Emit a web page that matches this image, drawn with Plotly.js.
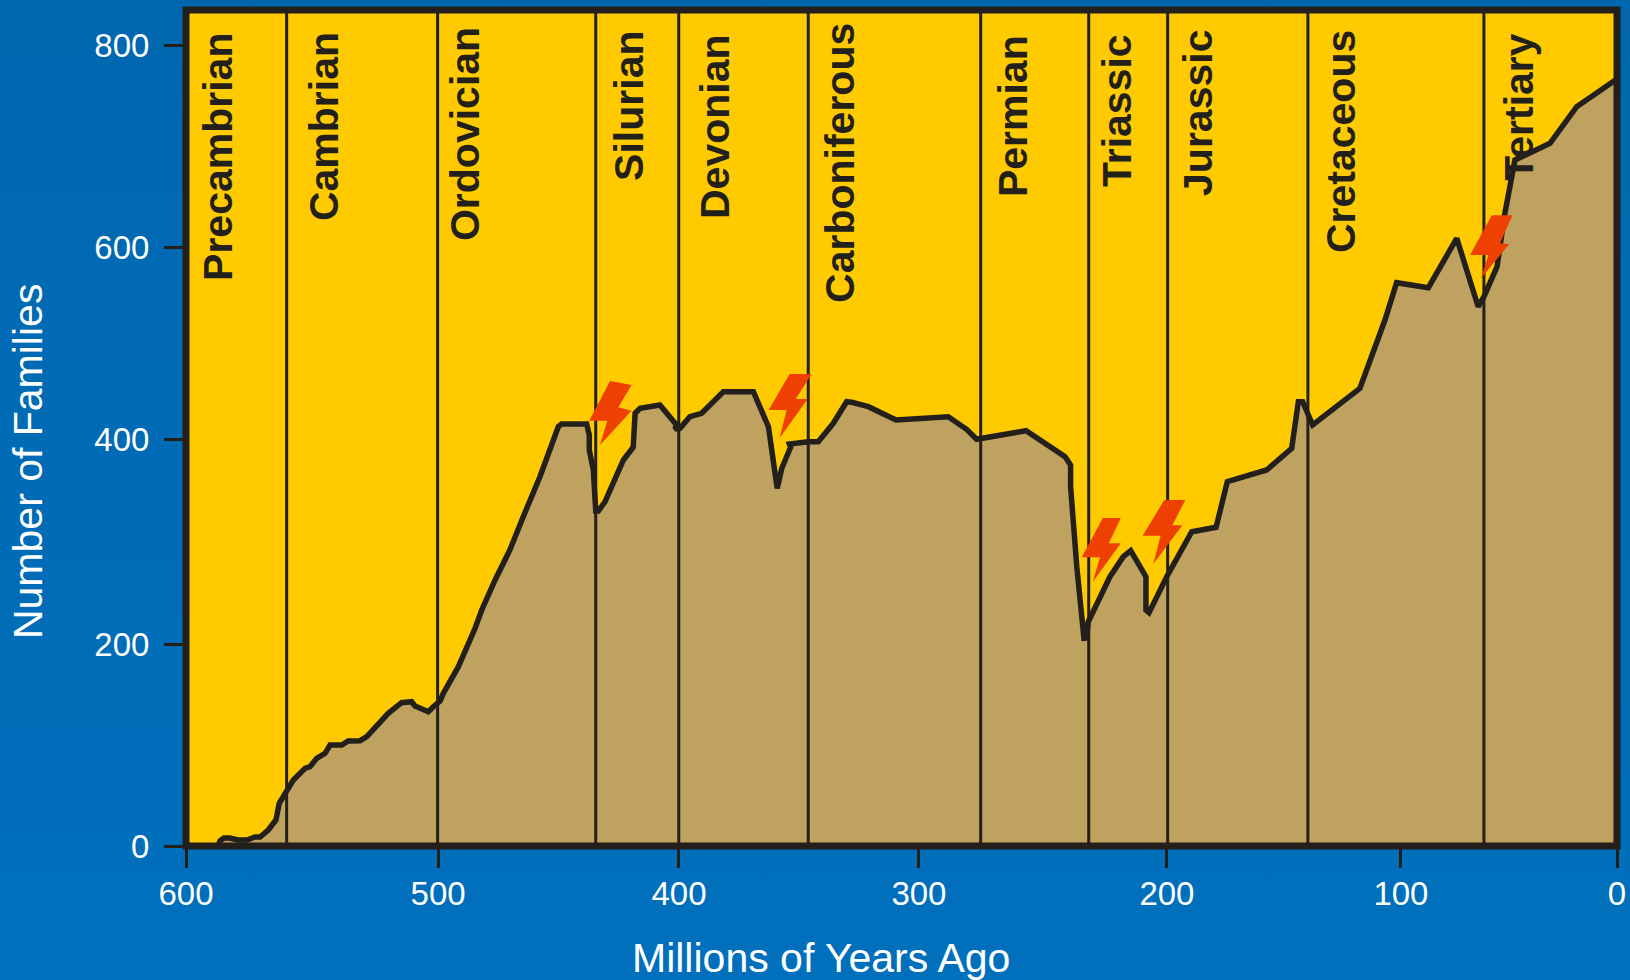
<!DOCTYPE html>
<html>
<head>
<meta charset="utf-8">
<script src="https://cdn.plot.ly/plotly-3.0.1.min.js"></script>
<style>
html,body{margin:0;padding:0;width:1630px;height:980px;overflow:hidden;background:linear-gradient(180deg,#0067af 0%,#0070bd 100%);}
#chart{width:1630px;height:980px;}
</style>
</head>
<body>
<div id="chart"></div>
<script>
const xTickVals = [600, 494.3, 393.3, 292.7, 188.7, 90.6, 0];
const xTickText = ['600', '500', '400', '300', '200', '100', '0'];
const yTickVals = [0, 202, 407, 598.5, 800.5];
const yTickText = ['0', '200', '400', '600', '800'];

const ages = [586.6,585.7,584.1,581.6,578.2,574.4,571.1,569.0,565.5,562.3,560.9,557.5,555.0,550.1,548.0,545.2,541.7,539.6,534.7,532.0,527.0,524.2,518.7,515.2,509.6,505.4,504.0,501.2,498.4,496.3,493.5,492.1,487.9,485.8,478.8,476.0,470.4,464.2,458.6,451.6,443.9,442.5,432.0,430.9,430.9,429.2,428.2,427.1,424.3,416.6,412.5,411.7,409.6,403.4,401.3,394.3,395.0,392.9,388.7,383.8,374.7,362.1,355.8,352.1,350.2,346.5,347.0,339.1,334.9,328.6,323.0,320.9,313.9,302.3,280.4,272.7,268.5,247.8,231.4,229.1,229.1,226.5,223.5,222.4,221.7,212.6,207.0,203.9,197.5,197.5,196.2,188.8,178.3,168.1,163.4,146.9,136.4,133.6,131.8,127.6,107.8,97.3,92.4,79.1,67.2,58.2,55.8,50.3,47.0,42.8,28.1,16.9,0];
const families = [0,5.3,8,8,6,6,9,9,16,26,42.7,56,66,77.7,79.3,87.7,92.7,101,101,105,105.3,109.3,122.7,132.7,143.3,144.3,140,137.7,134.3,139.3,145,152.7,169.3,179.3,217.7,236,266,296,329.3,369.3,419.3,422,422,411,396,376,335,335,344.3,386,398.7,432.7,437.7,441,441,421,417,417.7,429.3,432.7,454.3,454.3,419.3,357.7,377.7,398.7,402,404.3,404.3,422.7,444.3,443.7,439.3,426,429.3,416.7,406.7,415.3,389.3,381,359.3,279.3,207.7,208,224.3,269.3,289.3,295.3,269.3,236,233.3,269.3,314.3,318.7,364.3,376,397.7,444.3,444.3,421,457.7,526,563.3,558.3,607.7,539.3,549.3,579.3,632.7,686,702.7,739.3,767];

const boundaries = [557.8, 494.5, 428.2, 393.4, 339.1, 266.8, 221.5, 188.4, 129.6, 55.8];

const periodNames = ['Precambrian','Cambrian','Ordovician','Silurian','Devonian','Carboniferous','Permian','Triassic','Jurassic','Cretaceous','Tertiary'];
const periodAges = [586.6,542.1,483.0,414.3,378.2,325.8,253.2,209.6,175.7,115.7,41.2];
const periodHeights = [689,719,712,740,720,683,730,735,733,704,739];

const boltAges = [430.9, 355.7, 224.4, 198.9, 61.6];
const boltHeights = [465, 472, 328, 346, 630.7];
const boltOutlines = [
  [[20.7,0],[42.3,4],[29,26.3],[42.3,29.7],[10.7,64],[18,39.7],[0,39.7]],
  [[21,0],[43,0],[27,25],[39,25],[11,64],[18,36],[0,36]],
  [[21,0],[39,0],[27,25.3],[39,25.3],[11,63.7],[18.3,39.3],[0,39.3]],
  [[21.7,0],[42.7,0],[29.7,25.3],[39.7,25.3],[10.7,64],[18,35.7],[0,35.7]],
  [[21.7,0],[42.3,0],[30,28],[39,29],[11,63],[18.3,39.7],[0,39.7]]
];

const INK = '#231f1a';
const FONT = '"Liberation Sans", Arial, sans-serif';

const shapes = [];
boundaries.forEach(a => shapes.push({type:'line', xref:'x', yref:'paper', x0:a, x1:a, y0:0, y1:1, layer:'above', line:{color:INK, width:3}}));
boltAges.forEach((a,i) => shapes.push({
  type:'path', xref:'x', yref:'y', xsizemode:'pixel', ysizemode:'pixel', xanchor:a, yanchor:boltHeights[i], layer:'above',
  path:'M' + boltOutlines[i].map(p => p[0] + ',' + (-p[1])).join('L') + 'Z',
  fillcolor:'#ee4000', line:{width:0}
}));
shapes.push({type:'rect', xref:'paper', yref:'paper', x0:0, x1:1, y0:0, y1:1, layer:'above', line:{color:INK, width:7}});

const annotations = periodNames.map((n,i) => ({
  text:n, x:periodAges[i], y:periodHeights[i], xref:'x', yref:'y', textangle:-90, showarrow:false,
  xanchor:'center', yanchor:'middle', font:{family:FONT, size:41, color:INK, weight:700}
}));
// Axis titles in the reference are not centred on the plot, so they are placed explicitly.
annotations.push({text:'Millions of Years Ago', xref:'paper', yref:'paper', x:0.4437, y:-0.134, showarrow:false,
  xanchor:'center', yanchor:'middle', font:{family:FONT, size:41, color:'#ffffff'}});
annotations.push({text:'Number of Families', xref:'paper', yref:'paper', x:-0.1104, y:0.4593, textangle:-90, showarrow:false,
  xanchor:'center', yanchor:'middle', font:{family:FONT, size:41, color:'#ffffff'}});

const data = [{
  type:'scatter', mode:'lines', x:ages, y:families, fill:'tozeroy', fillcolor:'#bfa160',
  line:{color:INK, width:5.5, shape:'linear'}, hoverinfo:'x+y'
}];

const axisCommon = {
  showgrid:false, zeroline:false, showline:false, ticks:'outside', ticklen:21, tickwidth:3.3, tickcolor:INK,
  tickmode:'array', tickfont:{family:FONT, size:33, color:'#ffffff'}, automargin:false
};

const layout = {
  width:1630, height:980, margin:{l:186, r:13, t:10, b:134, pad:0},
  paper_bgcolor:'rgba(0,0,0,0)', plot_bgcolor:'#ffcb00', showlegend:false,
  font:{family:FONT},
  xaxis:Object.assign({}, axisCommon, {
    range:[600,0], tickvals:xTickVals, ticktext:xTickText, ticklabelstandoff:-3
  }),
  yaxis:Object.assign({}, axisCommon, {
    range:[0,836], tickvals:yTickVals, ticktext:yTickText, ticklabelstandoff:8
  }),
  shapes:shapes, annotations:annotations
};

Plotly.newPlot('chart', data, layout, {displayModeBar:false, responsive:false});
</script>
</body>
</html>
